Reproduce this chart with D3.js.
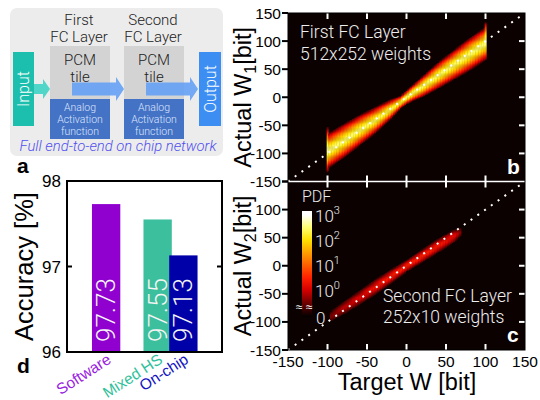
<!DOCTYPE html>
<html><head><meta charset="utf-8">
<script src="https://cdn.jsdelivr.net/npm/d3@7"></script>
<style>body{margin:0;background:#fff} svg{display:block}</style>
</head><body><svg id="c" width="540" height="400"></svg>
<script>
// ---------------- DATA ----------------
const accCategories = ["Software", "Mixed HS", "On-chip"];
const accValues = [97.73, 97.55, 97.13];
const accTicks = [96, 97, 98];
const wTicks = [-150, -100, -50, 0, 50, 100, 150];
const pdfExponents = [3, 2, 1, 0];

// Panel b (first FC layer) band profile
const knotsB = [-100, -80, -60, -40, -20, -8, 0, 8, 20, 40, 60, 80, 100];
const centreB = [-96, -78, -59, -41, -21, -9, 0, 8, 19, 39, 58, 77, 96];
const halfWidthB = [31, 30, 27, 23, 17, 11, 12, 14, 18, 23, 26, 29, 29];
const peakB = [2.5, 2.45, 2.45, 2.4, 2.35, 2.3, 2.5, 2.5, 2.45, 2.45, 2.45, 2.45, 2.5];
const spikeTargetsB = [-100, 100];
const spikeCentreB = [-93, 100];
const spikeHalfWidthB = [40, 34];
const spikePeakB = [2.7, 2.7];

// Panel c (second FC layer) band profile
const knotsC = [-96, -80, -60, -40, -20, 0, 20, 40, 60, 68];
const centreC = [-90, -75, -57, -38, -19, 0, 18, 36, 53, 60];
const halfWidthC = [8, 11, 12, 13, 12, 10, 11, 12, 11, 7];
const peakC = [-0.4, -0.1, 0.1, 0.3, 0.45, 0.5, 0.5, 0.4, 0.2, -0.3];

// ---------------- LAYOUT ----------------
const svg = d3.select("#c");
const lightFont = "Roboto, 'Liberation Sans', Arial, sans-serif";
const regFont = "'Liberation Sans', Arial, Helvetica, sans-serif";

// ======= Panel a : diagram =======
const ga = svg.append("g");
ga.append("rect").attr("x", 10).attr("y", 8).attr("width", 213).attr("height", 148).attr("rx", 7).attr("fill", "#ececec");
ga.append("rect").attr("x", 13).attr("y", 52).attr("width", 21).attr("height", 74).attr("fill", "#1cbfae");
ga.append("rect").attr("x", 199).attr("y", 52).attr("width", 22).attr("height", 74).attr("fill", "#3d8ef2");
ga.append("text").attr("transform", "translate(29,89) rotate(-90)").attr("text-anchor", "middle")
  .attr("font-family", lightFont).attr("font-weight", 300).attr("font-size", 16).attr("fill", "#fff").text("Input");
ga.append("text").attr("transform", "translate(216,89) rotate(-90)").attr("text-anchor", "middle")
  .attr("font-family", lightFont).attr("font-weight", 300).attr("font-size", 16).attr("fill", "#fff").text("Output");
const tileX = [50, 124];
const tileTitle = [["First", "FC Layer"], ["Second", "FC Layer"]];
tileX.forEach((tx, i) => {
  ga.append("rect").attr("x", tx).attr("y", 46).attr("width", 60).attr("height", 53).attr("fill", "#d3d3d3");
  ga.append("rect").attr("x", tx).attr("y", 99).attr("width", 60).attr("height", 40).attr("fill", "#4472c4");
  const cx = tx + 29;
  ga.append("text").attr("x", cx).attr("y", 25).attr("text-anchor", "middle").attr("font-family", lightFont)
    .attr("font-weight", 300).attr("font-size", 15).attr("fill", "#222").text(tileTitle[i][0]);
  ga.append("text").attr("x", cx).attr("y", 42).attr("text-anchor", "middle").attr("font-family", lightFont)
    .attr("font-weight", 300).attr("font-size", 15).attr("fill", "#222").text(tileTitle[i][1]);
  ga.append("text").attr("x", cx + 1).attr("y", 65).attr("text-anchor", "middle").attr("font-family", lightFont)
    .attr("font-weight", 300).attr("font-size", 15).attr("fill", "#222").text("PCM");
  ga.append("text").attr("x", cx + 1).attr("y", 82).attr("text-anchor", "middle").attr("font-family", lightFont)
    .attr("font-weight", 300).attr("font-size", 15).attr("fill", "#222").text("tile");
  ["Analog", "Activation", "function"].forEach((s, j) => {
    ga.append("text").attr("x", cx + 1).attr("y", 111 + j * 12).attr("text-anchor", "middle").attr("font-family", lightFont)
      .attr("font-weight", 300).attr("font-size", 10.5).attr("fill", "#dce6ff").text(s);
  });
});
function arrow(x0, x1, xt, yc, bh, hh, col, op) {
  const p = `M${x0},${yc - bh}L${x1},${yc - bh}L${x1},${yc - hh}L${xt},${yc}L${x1},${yc + hh}L${x1},${yc + bh}L${x0},${yc + bh}Z`;
  ga.append("path").attr("d", p).attr("fill", col).attr("opacity", op);
}
arrow(34, 43, 50, 89, 5, 10, "#4fd6c8", 1);
arrow(72, 116, 124, 89, 6.5, 12, "#5e9cf6", 0.85);
arrow(146, 190, 198, 89, 6.5, 12, "#5e9cf6", 0.85);
ga.append("text").attr("x", 118).attr("y", 151).attr("text-anchor", "middle").attr("font-family", lightFont)
  .attr("font-weight", 300).attr("font-style", "italic").attr("font-size", 14.8).attr("fill", "#5050f0")
  .text("Full end-to-end on chip network");

svg.append("text").attr("x", 17).attr("y", 173).attr("font-family", regFont).attr("font-weight", "bold")
  .attr("font-size", 21).attr("fill", "#000").text("a");
svg.append("text").attr("x", 17).attr("y", 373).attr("font-family", regFont).attr("font-weight", "bold")
  .attr("font-size", 21).attr("fill", "#000").text("d");

// ======= Panel d : bars =======
const barColors = ["#9000cf", "#3cbf9c", "#0000a8"];
const labelColors = ["#9a22e0", "#30bf9a", "#1414c4"];
const barSlot = [0, 1, 1.5];
const xd = d3.scaleLinear().domain([-0.76, 2.25]).range([67, 222]);
const yd = d3.scaleLinear().domain([96, 98]).range([352, 181]);
const gd = svg.append("g");
const bw = 0.55;
accValues.forEach((v, i) => {
  const x0 = xd(barSlot[i] - bw / 2), x1 = xd(barSlot[i] + bw / 2);
  gd.append("rect").attr("x", x0).attr("y", yd(v)).attr("width", x1 - x0).attr("height", yd(96) - yd(v)).attr("fill", barColors[i]);
  gd.append("text").attr("transform", `translate(${xd(barSlot[i]) + 9},342) rotate(-90)`)
    .attr("font-family", lightFont).attr("font-weight", 300).attr("font-size", 26).attr("fill", "#f4f4f4").text(v.toFixed(2));
  gd.append("text").attr("transform", `translate(${xd(barSlot[i]) + 6},362) rotate(-33)`).attr("text-anchor", "end")
    .attr("font-family", regFont).attr("font-size", 15.5).attr("fill", labelColors[i]).text(accCategories[i]);
});
gd.append("rect").attr("x", 67).attr("y", 181).attr("width", 155).attr("height", 171).attr("fill", "none").attr("stroke", "#000").attr("stroke-width", 2);
accTicks.forEach(t => {
  gd.append("line").attr("x1", 67).attr("x2", 72).attr("y1", yd(t)).attr("y2", yd(t)).attr("stroke", "#000").attr("stroke-width", 2);
  gd.append("line").attr("x1", 217).attr("x2", 222).attr("y1", yd(t)).attr("y2", yd(t)).attr("stroke", "#000").attr("stroke-width", 2);
  gd.append("text").attr("x", 61).attr("y", yd(t)).attr("dy", "0.36em").attr("text-anchor", "end")
    .attr("font-family", regFont).attr("font-size", 17).text(t);
});
gd.append("text").attr("transform", `translate(33,${yd(97)}) rotate(-90)`).attr("text-anchor", "middle")
  .attr("font-family", regFont).attr("font-size", 25.5).text("Accuracy [%]");

// ======= Panels b, c : heatmaps =======
const colorLog = d3.scaleLinear()
  .domain([-0.7, 0, 0.5, 1, 1.5, 2, 2.5, 3])
  .range(["#3a0000", "#d40000", "#ff2000", "#ff6000", "#ffa000", "#ffe000", "#ffff70", "#ffffff"]).clamp(true);

const xw = d3.scaleLinear().domain([-150, 150]).range([288, 525]);
const panels = [
  { top: 13, bottom: 181.5, knots: knotsB, centre: centreB, hw: halfWidthB, peak: peakB,
    spikes: spikeTargetsB.map((t, i) => ({ t, c: spikeCentreB[i], w: spikeHalfWidthB[i], p: spikePeakB[i] })), id: "b", sub: "1" },
  { top: 181.5, bottom: 350, knots: knotsC, centre: centreC, hw: halfWidthC, peak: peakC, spikes: [], id: "c", sub: "2" }
];
const bin = 2;
const defs = svg.append("defs");

panels.forEach((P, pi) => {
  const yw = d3.scaleLinear().domain([-150, 150]).range([P.bottom, P.top]);
  const g = svg.append("g");
  defs.append("clipPath").attr("id", "clip" + P.id).append("rect")
    .attr("x", 288).attr("y", P.top).attr("width", 237).attr("height", P.bottom - P.top);
  g.append("rect").attr("x", 288).attr("y", P.top).attr("width", 237).attr("height", P.bottom - P.top).attr("fill", "#0b0101");
  const cS = d3.scaleLinear().domain(P.knots).range(P.centre);
  const wS = d3.scaleLinear().domain(P.knots).range(P.hw);
  const pS = d3.scaleLinear().domain(P.knots).range(P.peak);
  const cells = new Map();
  const add = (t, v, L) => {
    const k = t + "," + v;
    if (!cells.has(k) || cells.get(k).L < L) cells.set(k, { t, v, L });
  };
  const t0 = P.knots[0], t1 = P.knots[P.knots.length - 1];
  for (let t = Math.ceil(t0 / bin) * bin; t <= t1; t += bin) {
    const c = cS(t), w = wS(t), p = pS(t);
    for (let v = Math.floor((c - w) / bin) * bin; v <= c + w + bin; v += bin) {
      const L = p - (p + 0.7) * Math.pow(Math.abs(v - c) / w, 1.5);
      if (L > -0.7) add(t, v, L);
    }
  }
  P.spikes.forEach(s => {
    for (let v = Math.floor((s.c - s.w) / bin) * bin; v <= s.c + s.w + bin; v += bin) {
      const L = s.p - (s.p + 0.7) * Math.pow(Math.abs(v - s.c) / s.w, 1.5);
      if (L > -0.7) add(s.t, v, L);
    }
  });
  const hg = g.append("g").attr("clip-path", `url(#clip${P.id})`);
  hg.selectAll("rect.cell").data(Array.from(cells.values())).join("rect").attr("class", "cell")
    .attr("x", d => xw(d.t - bin / 2)).attr("y", d => yw(d.v + bin / 2))
    .attr("width", xw(bin) - xw(0) + 0.3).attr("height", yw(0) - yw(bin) + 0.3)
    .attr("fill", d => colorLog(d.L));
  hg.append("line").attr("x1", xw(-150)).attr("y1", yw(-150)).attr("x2", xw(150)).attr("y2", yw(150))
    .attr("stroke", "#fff").attr("stroke-width", 2).attr("stroke-dasharray", "2,6.3");
  const inner = [-100, -50, 0, 50, 100];
  inner.forEach(t => {
    g.append("line").attr("x1", xw(t)).attr("x2", xw(t)).attr("y1", P.top).attr("y2", P.top + 6).attr("stroke", "#fff").attr("stroke-width", 2);
    g.append("line").attr("x1", xw(t)).attr("x2", xw(t)).attr("y1", P.bottom).attr("y2", P.bottom - 6).attr("stroke", "#fff").attr("stroke-width", 2);
    g.append("line").attr("x1", 525).attr("x2", 519).attr("y1", yw(t)).attr("y2", yw(t)).attr("stroke", "#fff").attr("stroke-width", 2);
  });
  wTicks.forEach(t => {
    g.append("line").attr("x1", 282).attr("x2", 288).attr("y1", yw(t)).attr("y2", yw(t)).attr("stroke", "#000").attr("stroke-width", 2);
    if (pi === 1 && t === 150) return;
    g.append("text").attr("x", 281).attr("y", yw(t)).attr("dy", "0.36em").attr("text-anchor", "end")
      .attr("font-family", regFont).attr("font-size", 15.5).text(t);
  });
  const yt = g.append("text").attr("transform", `translate(251,${(P.top + P.bottom) / 2}) rotate(-90)`).attr("text-anchor", "middle")
    .attr("font-family", regFont).attr("font-size", 23.5);
  yt.append("tspan").text("Actual W");
  yt.append("tspan").attr("font-size", 16).attr("dy", 5).text(P.sub);
  yt.append("tspan").attr("dy", -5).text("[bit]");
  g.append("text").attr("x", 507).attr("y", P.bottom - 8).attr("font-family", regFont).attr("font-weight", "bold")
    .attr("font-size", 21).attr("fill", "#fff").text(P.id);
});
svg.append("line").attr("x1", 288).attr("x2", 525).attr("y1", 181.5).attr("y2", 181.5).attr("stroke", "#fff").attr("stroke-width", 1.5);
svg.append("rect").attr("x", 288).attr("y", 13).attr("width", 237).attr("height", 337).attr("fill", "none").attr("stroke", "#000").attr("stroke-width", 1);

wTicks.forEach(t => {
  svg.append("text").attr("x", xw(t)).attr("y", 367).attr("text-anchor", "middle").attr("font-family", regFont)
    .attr("font-size", 15.5).text(t);
});
svg.append("text").attr("x", 407).attr("y", 390).attr("text-anchor", "middle").attr("font-family", regFont)
  .attr("font-size", 23.5).text("Target W [bit]");

const wt = (x, y, s, fs) => svg.append("text").attr("x", x).attr("y", y).attr("font-family", lightFont)
  .attr("font-weight", 300).attr("font-size", fs).attr("fill", "#eee").text(s);
wt(300, 38, "First FC Layer", 17.5);
wt(300, 60, "512x252 weights", 17.5);
wt(383, 302, "Second FC Layer", 17.5);
wt(383, 323, "252x10 weights", 17.5);
wt(302, 202, "PDF", 16);

const cbTop = 211, cbBot = 317;
const cbScale = d3.scaleLinear().domain([3, 0]).range([215, 290]);
const grad = defs.append("linearGradient").attr("id", "cbg").attr("x1", 0).attr("y1", 0).attr("x2", 0).attr("y2", 1);
d3.range(0, 1.0001, 0.02).forEach(f => {
  const ypx = cbTop + f * (cbBot - cbTop);
  let col;
  if (ypx <= 290) col = colorLog(cbScale.invert(ypx));
  else col = d3.interpolateRgb(colorLog(0), "#000")((ypx - 290) / (cbBot - 290));
  grad.append("stop").attr("offset", f).attr("stop-color", col);
});
svg.append("rect").attr("x", 302).attr("y", cbTop).attr("width", 10).attr("height", cbBot - cbTop).attr("fill", "url(#cbg)");
pdfExponents.forEach(e => {
  const t = svg.append("text").attr("x", 315).attr("y", cbScale(e)).attr("dy", "0.4em").attr("font-family", lightFont)
    .attr("font-weight", 300).attr("font-size", 17).attr("fill", "#eee");
  t.append("tspan").text("10");
  t.append("tspan").attr("font-size", 11).attr("dy", -8).text(e);
});
svg.append("text").attr("x", 296).attr("y", 311).attr("font-family", regFont).attr("font-size", 12).attr("fill", "#fff").text("≈ ≈");
svg.append("text").attr("x", 316).attr("y", 317).attr("dy", "0.4em").attr("font-family", lightFont).attr("font-weight", 300)
  .attr("font-size", 17).attr("fill", "#eee").text("0");
</script></body></html>
